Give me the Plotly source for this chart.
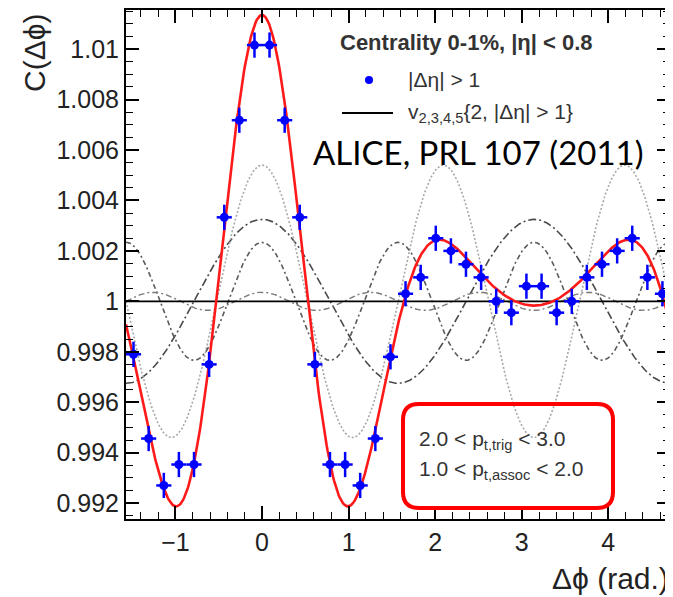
import numpy as np
import plotly.graph_objects as go

# ---------------- data ----------------
dphi = [-1.484, -1.309, -1.134, -0.960, -0.785, -0.611, -0.436, -0.262, -0.087,
        0.087, 0.262, 0.436, 0.611, 0.785, 0.960, 1.134, 1.309, 1.484,
        1.658, 1.833, 2.007, 2.182, 2.356, 2.531, 2.705, 2.880, 3.054,
        3.229, 3.403, 3.578, 3.752, 3.927, 4.102, 4.276, 4.451, 4.625]
corr = [0.9979, 0.99456, 0.9927, 0.99353, 0.99353, 0.9975, 1.00333, 1.00718, 1.01016,
        1.01016, 1.00718, 1.00333, 0.9975, 0.99353, 0.99353, 0.9927, 0.99456, 0.9978,
        1.0003, 1.00095, 1.0025, 1.0020, 1.00147, 1.00095, 1.0000, 0.99955, 1.0006,
        1.0006, 0.99955, 1.0000, 1.00095, 1.00147, 1.0020, 1.0025, 1.00095, 1.0003]
corr_err = [0.0005] * 36
bin_halfwidth = [0.0873] * 36

# Fourier harmonics v_n (amplitude of each cos(n dphi) term)
harm_order = [2, 3, 4, 5]
harm_ampl = [0.00325, 0.0054, 0.00234, 0.00036]

x_ticks = [-1, 0, 1, 2, 3, 4]
y_ticks = [0.992, 0.994, 0.996, 0.998, 1.0, 1.002, 1.004, 1.006, 1.008, 1.010]
y_ticktext = ["0.992", "0.994", "0.996", "0.998", "1", "1.002", "1.004", "1.006", "1.008", "1.01"]

XMIN, XMAX = -np.pi / 2, 3 * np.pi / 2
YMIN, YMAX = 0.99137, 1.01155

# ---------------- figure ----------------
# the page body has an 8px margin, so the figure is placed 8px in from the corner
OFF = 8
W, H = 673 - OFF, 597 - OFF
ML, MR, MT, MB = 126 - OFF, 3, 10 - OFF, 78
PW, PH = W - ML - MR, H - MT - MB


def px2paper(px, py):
    # px, py are window pixel coordinates
    return (px - OFF - ML) / PW, (H - MB - (py - OFF)) / PH


fig = go.Figure()

phi = np.linspace(XMIN, XMAX, 600)
harm_styles = {
    2: dict(color="#4a4a4a", dash="8px,3px,2px,3px", width=1.6),
    3: dict(color="#a8a8a8", dash="2px,2px", width=1.6),
    4: dict(color="#5a5a5a", dash="5px,3px,2px,3px", width=1.6),
    5: dict(color="#7a7a7a", dash="6px,3px,2px,3px", width=1.4),
}
total = np.ones_like(phi)
for n, a in zip(harm_order, harm_ampl):
    yv = 1 + a * np.cos(n * phi)
    total = total + a * np.cos(n * phi)
    fig.add_trace(go.Scatter(x=phi, y=yv, mode="lines", line=harm_styles[n],
                             showlegend=False, hoverinfo="skip"))

fig.add_trace(go.Scatter(x=[XMIN, XMAX], y=[1, 1], mode="lines",
                         line=dict(color="black", width=1.6), showlegend=False))

fig.add_trace(go.Scatter(x=phi, y=total, mode="lines",
                         line=dict(color="#ff1a1a", width=2.6), showlegend=False))

fig.add_trace(go.Scatter(
    x=dphi, y=corr, mode="markers",
    marker=dict(color="#0000ff", size=9, symbol="circle"),
    error_y=dict(type="data", array=corr_err, color="#0000ff", thickness=2.5, width=0),
    error_x=dict(type="data", array=bin_halfwidth, color="#0000ff", thickness=2.5, width=0),
    showlegend=False))

axis_common = dict(showline=True, linecolor="black", linewidth=2, mirror="ticks",
                   ticks="inside", ticklen=13, tickwidth=1.6, tickcolor="black",
                   showgrid=False, zeroline=False, automargin=False,
                   tickfont=dict(family="Liberation Sans, Arial", size=25, color="#222"))

fig.update_xaxes(range=[XMIN, XMAX], tickvals=x_ticks,
                 minor=dict(ticks="inside", ticklen=7, tickwidth=1.4, dtick=0.2, tick0=0,
                            tickcolor="black", showgrid=False),
                 **axis_common)
fig.update_yaxes(range=[YMIN, YMAX], tickvals=y_ticks, ticktext=y_ticktext,
                 minor=dict(ticks="inside", ticklen=7, tickwidth=1.4, dtick=0.0005, tick0=1,
                            tickcolor="black", showgrid=False),
                 **axis_common)

ann = []
# axis titles
ax, ay = px2paper(35, 53)
ann.append(dict(text="C(Δϕ)", x=ax, y=ay, xref="paper", yref="paper", textangle=-90,
                xanchor="center", yanchor="middle", showarrow=False,
                font=dict(family="Liberation Sans, Arial", size=30, color="#222")))
ax, ay = px2paper(671, 578)
ann.append(dict(text="Δϕ (rad.)", x=ax, y=ay, xref="paper", yref="paper",
                xanchor="right", yanchor="middle", showarrow=False,
                font=dict(family="Liberation Sans, Arial", size=30, color="#222")))
# legend texts
ax, ay = px2paper(338, 43)
ann.append(dict(text="<b>Centrality 0-1%, |η| &lt; 0.8</b>", x=ax, y=ay, xref="paper", yref="paper",
                xanchor="left", yanchor="middle", showarrow=False,
                font=dict(family="Liberation Sans, Arial", size=22, color="#333")))
ax, ay = px2paper(406, 80)
ann.append(dict(text="|Δη| &gt; 1", x=ax, y=ay, xref="paper", yref="paper",
                xanchor="left", yanchor="middle", showarrow=False,
                font=dict(family="Liberation Sans, Arial", size=21, color="#333")))
ax, ay = px2paper(406, 113)
ann.append(dict(text="v<sub>2,3,4,5</sub>{2, |Δη| &gt; 1}", x=ax, y=ay, xref="paper", yref="paper",
                xanchor="left", yanchor="middle", showarrow=False,
                font=dict(family="Liberation Sans, Arial", size=21, color="#333")))
ax, ay = px2paper(311, 152)
ann.append(dict(text="ALICE, PRL 107 (2011)", x=ax, y=ay, xref="paper", yref="paper",
                xanchor="left", yanchor="middle", showarrow=False,
                font=dict(family="Lato, Liberation Sans", size=33, color="black")))
ax, ay = px2paper(417, 440)
ann.append(dict(text="2.0 &lt; p<sub>t,trig</sub> &lt; 3.0", x=ax, y=ay, xref="paper", yref="paper",
                xanchor="left", yanchor="middle", showarrow=False,
                font=dict(family="Liberation Sans, Arial", size=21, color="#333")))
ax, ay = px2paper(417, 470)
ann.append(dict(text="1.0 &lt; p<sub>t,assoc</sub> &lt; 2.0", x=ax, y=ay, xref="paper", yref="paper",
                xanchor="left", yanchor="middle", showarrow=False,
                font=dict(family="Liberation Sans, Arial", size=21, color="#333")))

shapes = []
# legend marker and line
cx, cy = px2paper(369, 80)
rx, ry = 4 / PW, 4 / PH
shapes.append(dict(type="circle", xref="paper", yref="paper", x0=cx - rx, x1=cx + rx,
                   y0=cy - ry, y1=cy + ry, fillcolor="#0000ff", line=dict(width=0)))
lx0, ly = px2paper(342, 113)
lx1, _ = px2paper(393, 113)
shapes.append(dict(type="line", xref="paper", yref="paper", x0=lx0, x1=lx1, y0=ly, y1=ly,
                   line=dict(color="black", width=2)))

# rounded red box
bx0, by0, bx1, by1, r = 403, 404, 613, 508, 16


def P(px, py):
    a, b = px2paper(px, py)
    return f"{a:.5f},{b:.5f}"


path = (f"M {P(bx0 + r, by0)} L {P(bx1 - r, by0)} Q {P(bx1, by0)} {P(bx1, by0 + r)} "
        f"L {P(bx1, by1 - r)} Q {P(bx1, by1)} {P(bx1 - r, by1)} "
        f"L {P(bx0 + r, by1)} Q {P(bx0, by1)} {P(bx0, by1 - r)} "
        f"L {P(bx0, by0 + r)} Q {P(bx0, by0)} {P(bx0 + r, by0)} Z")
shapes.append(dict(type="path", xref="paper", yref="paper", path=path,
                   line=dict(color="#ff0000", width=4)))

fig.update_layout(width=W, height=H, margin=dict(l=ML, r=MR, t=MT, b=MB, autoexpand=False),
                  paper_bgcolor="white", plot_bgcolor="white",
                  annotations=ann, shapes=shapes, showlegend=False)

fig.write_html("out.html")
